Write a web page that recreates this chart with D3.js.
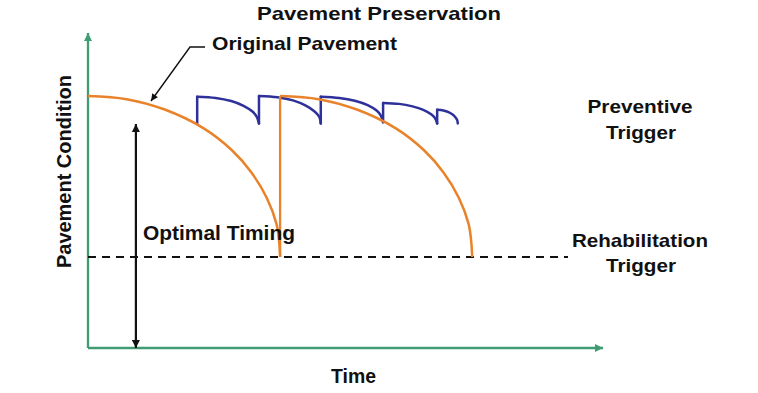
<!DOCTYPE html>
<html>
<head>
<meta charset="utf-8">
<script src="https://cdn.jsdelivr.net/npm/d3@7"></script>
<style>
  html, body { margin: 0; padding: 0; background: #fff; }
  svg text { font-family: "Liberation Sans", Arial, sans-serif; font-weight: bold; fill: #111; }
</style>
</head>
<body>
<svg id="chart" width="758" height="393"></svg>
<script>
// ---- Data (time 0..100, condition 0..100) ----
const originalCurve = [[0,80],[7.5,79],[14.9,75.7],[22.4,69.8],[28,62.7],[31.7,55.8],[34.7,47.7],[36.6,39.4],[37.1,34.0],[37.3,28.9]];
const rehabJump = [[37.3,28.9],[37.3,80]];
const rehabCurve = [[37.3,80],[44.8,79],[52.2,75.7],[59.7,69.8],[65.3,62.7],[69,55.8],[72,47.7],[73.9,39.4],[74.4,34.0],[74.6,28.9]];
const preventiveSegments = [
  [[21.2,71.3],[21.2,79.8],[24.8,79.4],[27.8,78.4],[30.2,76.9],[32.0,75.0],[32.8,73.3],[33.2,71.3]],
  [[33.2,71.3],[33.2,80.0],[36.8,79.6],[39.8,78.6],[42.2,77.0],[44.0,75.1],[44.9,73.4],[45.2,71.3]],
  [[45.2,71.3],[45.2,79.8],[48.8,79.4],[51.8,78.5],[54.3,77.1],[56.1,75.3],[56.9,73.7],[57.3,71.7]],
  [[57.3,71.7],[57.3,77.8],[60.4,77.5],[63.0,76.7],[65.1,75.6],[66.7,74.1],[67.4,72.9],[67.8,71.3]],
  [[67.8,71.3],[67.8,75.6],[69.0,75.4],[70.0,74.9],[70.8,74.1],[71.4,73.1],[71.7,72.3],[71.8,71.3]]
];
const rehabTriggerLevel = 28.9;
const rehabTriggerEnd = 93.2;
const optimalTimingX = 9.3;
const optimalTimingTop = 71.1;
const titleText = "Pavement Preservation";
const xLabel = "Time";
const yLabel = "Pavement Condition";

// ---- Scales ----
const svg = d3.select("#chart");
const x = d3.scaleLinear().domain([0, 100]).range([88, 603]);
const y = d3.scaleLinear().domain([0, 100]).range([348, 33]);

const green = "#3f9c73", orange = "#e8832b", blue = "#2e3199";

// markers
const defs = svg.append("defs");
function marker(id, color, w, h) {
  defs.append("marker").attr("id", id).attr("viewBox", "0 0 10 10")
    .attr("refX", 10).attr("refY", 5).attr("markerWidth", w).attr("markerHeight", h)
    .attr("markerUnits", "userSpaceOnUse").attr("orient", "auto-start-reverse")
    .append("path").attr("d", "M0,0 L10,5 L0,10 Z").attr("fill", color);
}
marker("ga", green, 9, 8);
marker("ka", "#111", 10, 8);
marker("ks", "#111", 8, 7);

// Axes (arrows)
svg.append("line").attr("x1", x(0)).attr("y1", y(0)).attr("x2", x(0)).attr("y2", y(100))
  .attr("stroke", green).attr("stroke-width", 2.3).attr("marker-end", "url(#ga)");
svg.append("line").attr("x1", x(0)).attr("y1", y(0)).attr("x2", x(100)).attr("y2", y(0))
  .attr("stroke", green).attr("stroke-width", 2.3).attr("marker-end", "url(#ga)");

// Rehabilitation trigger dashed line
svg.append("line").attr("x1", x(0)).attr("x2", x(rehabTriggerEnd))
  .attr("y1", y(rehabTriggerLevel)).attr("y2", y(rehabTriggerLevel))
  .attr("stroke", "#111").attr("stroke-width", 2).attr("stroke-dasharray", "8,6");

// Optimal timing double arrow
svg.append("line").attr("x1", x(optimalTimingX)).attr("x2", x(optimalTimingX))
  .attr("y1", y(optimalTimingTop)).attr("y2", y(0))
  .attr("stroke", "#111").attr("stroke-width", 2.2)
  .attr("marker-start", "url(#ka)").attr("marker-end", "url(#ka)");

// Curves
const lineSmooth = d3.line().x(d => x(d[0])).y(d => y(d[1])).curve(d3.curveCatmullRom.alpha(0.5));
const lineStraight = d3.line().x(d => x(d[0])).y(d => y(d[1]));

// Preventive (blue)
preventiveSegments.forEach(seg => {
  svg.append("path").attr("d", lineStraight(seg.slice(0, 2)))
    .attr("fill", "none").attr("stroke", blue).attr("stroke-width", 2.5).attr("stroke-linecap", "round");
  svg.append("path").attr("d", lineSmooth(seg.slice(1)))
    .attr("fill", "none").attr("stroke", blue).attr("stroke-width", 2.5).attr("stroke-linecap", "round");
});

// Orange
[originalCurve, rehabCurve].forEach(c => {
  svg.append("path").attr("d", lineSmooth(c))
    .attr("fill", "none").attr("stroke", orange).attr("stroke-width", 2.5);
});
svg.append("path").attr("d", lineStraight(rehabJump))
  .attr("fill", "none").attr("stroke", orange).attr("stroke-width", 2.3);

// Original pavement leader
svg.append("path").attr("d", "M205,47 L190,47 L151,101")
  .attr("fill", "none").attr("stroke", "#111").attr("stroke-width", 1.4)
  .attr("marker-end", "url(#ks)");

// Texts
function txt(t, xx, yy, size, len, anchor) {
  return svg.append("text").attr("x", xx).attr("y", yy).attr("font-size", size)
    .attr("text-anchor", anchor || "middle")
    .attr("textLength", len).attr("lengthAdjust", "spacingAndGlyphs").text(t);
}
txt(titleText, 379, 20, 19, 244);
txt("Original Pavement", 212, 50, 19, 185, "start");
txt("Optimal Timing", 143, 240, 19.5, 152, "start");
txt("Preventive", 640, 113, 19, 105);
txt("Trigger", 641, 139, 19, 70);
txt("Rehabilitation", 640, 246.5, 19, 136);
txt("Trigger", 641, 271.5, 19, 70);
txt(xLabel, 353.5, 383, 20, 45);
svg.append("text").attr("transform", "translate(71,171.5) rotate(-90)")
  .attr("font-size", 20).attr("text-anchor", "middle")
  .attr("textLength", 193).attr("lengthAdjust", "spacingAndGlyphs").text(yLabel);
</script>
</body>
</html>
